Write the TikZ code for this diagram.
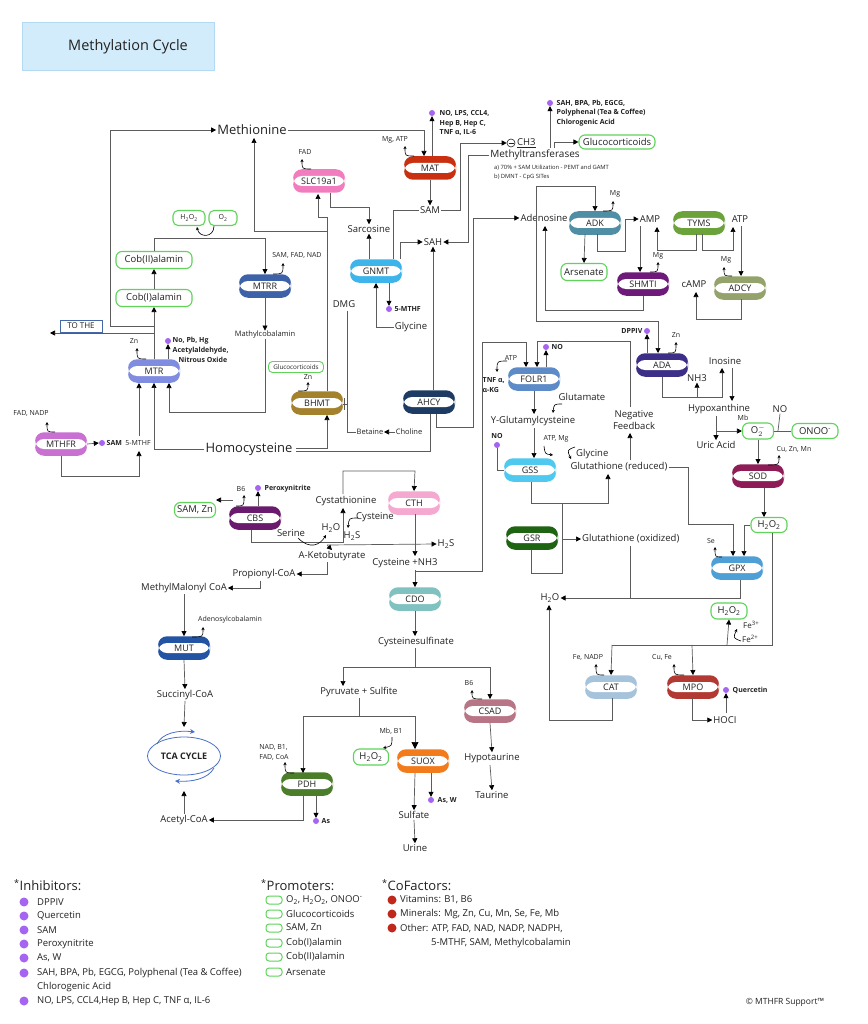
\documentclass[tikz,border=0pt]{standalone}
\usepackage{fontspec}
\setmainfont{Open Sans}
\usetikzlibrary{arrows.meta,shapes.geometric}
\definecolor{lc}{HTML}{5C5C5C}
\definecolor{pg}{HTML}{5FD35A}
\definecolor{inh}{HTML}{A565F0}
\definecolor{cofr}{HTML}{C0281C}
\definecolor{txt}{HTML}{222222}
\definecolor{matc}{HTML}{C8300F}
\definecolor{slcc}{HTML}{F27DBE}
\definecolor{gnmtc}{HTML}{3DB5EA}
\definecolor{mtrrc}{HTML}{3E62A8}
\definecolor{mtrc}{HTML}{7F8CE0}
\definecolor{mthfrc}{HTML}{C970D3}
\definecolor{bhmtc}{HTML}{A4812C}
\definecolor{ahcyc}{HTML}{1E3B63}
\definecolor{folrc}{HTML}{5D8BC8}
\definecolor{gssc}{HTML}{4FC9F0}
\definecolor{gsrc}{HTML}{1F6412}
\definecolor{cthc}{HTML}{F5A9D0}
\definecolor{cbsc}{HTML}{6B1B6D}
\definecolor{cdoc}{HTML}{80C2C0}
\definecolor{csadc}{HTML}{B87586}
\definecolor{suoxc}{HTML}{F27B1C}
\definecolor{pdhc}{HTML}{4C7D2A}
\definecolor{mutc}{HTML}{2254A3}
\definecolor{adkc}{HTML}{4F8EA5}
\definecolor{shmtc}{HTML}{6D1A7A}
\definecolor{tymsc}{HTML}{6BA23A}
\definecolor{adcyc}{HTML}{94A36B}
\definecolor{adac}{HTML}{3D2F88}
\definecolor{sodc}{HTML}{8E1D57}
\definecolor{gpxc}{HTML}{4E9FD6}
\definecolor{catc}{HTML}{A6C3DC}
\definecolor{mpoc}{HTML}{B23A33}
\definecolor{tcac}{HTML}{4A70C8}
\definecolor{tothe}{HTML}{4468A8}
\definecolor{titlef}{HTML}{D3ECFB}
\definecolor{titleb}{HTML}{B3DAF2}
\newcommand{\fbig}{\fontsize{13}{15}\selectfont}
\newcommand{\fmed}{\fontsize{9.5}{11}\selectfont}
\newcommand{\fsm}{\fontsize{7}{8}\selectfont}
\newcommand{\fsb}{\fontsize{7}{9.8}\selectfont\bfseries}
\newcommand{\fenz}{\fontsize{9}{10}\selectfont}
\newcommand{\fleg}{\fontsize{9.5}{11}\selectfont}
\newcommand{\flegt}{\fontsize{13}{15}\selectfont}
\begin{document}
\begin{tikzpicture}[x=1pt,y=-1pt,
  every node/.style={text=txt},
  t/.style={inner sep=1pt,font=\fmed},
  big/.style={inner sep=1pt,font=\fbig},
  sm/.style={inner sep=0.5pt,font=\fsm},
  sb/.style={inner sep=0.5pt,font=\fsb,align=left},
  enz/.style={rectangle,rounded corners=9pt,minimum width=52pt,minimum height=23.5pt,inner sep=0pt,fill=#1,font=\fenz,
    path picture={\fill[white] ([yshift=-5pt]path picture bounding box.west) rectangle ([yshift=5pt]path picture bounding box.east);}},
  prom/.style={draw=pg,line width=1.1pt,rounded corners=6pt,inner sep=1pt,fill=white,font=\fmed},
  dot/.style={circle,fill=inh,inner sep=0pt,minimum size=6pt},
  ar/.style={draw=lc,line width=0.7pt,-{Triangle[length=5pt,width=5pt,color=black]}},
  ln/.style={draw=lc,line width=0.7pt},
  cf/.style={draw=black,line width=0.6pt,-{Stealth[length=3.2pt,width=3.2pt]}},
  tcaar/.style={draw=tcac,line width=0.8pt,-{Stealth[length=5pt,width=5pt]}},
  ldot/.style={circle,inner sep=0pt,minimum size=9pt},
  lt/.style={anchor=west,inner sep=0pt,font=\fleg},
  lprom/.style={draw=pg,line width=1pt,rounded corners=3pt,minimum width=16pt,minimum height=8pt,inner sep=0pt}
]
\useasboundingbox (0,0) rectangle (867,1024);
\fill[white] (0,0) rectangle (867,1024);
% title
\fill[titlef,draw=titleb,line width=0.8pt] (22,22) rectangle (214,70);
\node[font=\fontsize{14.5}{16}\selectfont] (title) at (128,47) {Methylation Cycle};

% ---------- nodes: folate / methionine ----------
\node[big] (Met) at (252,130) {Methionine};
\node[big] (Homo) at (249,449) {Homocysteine};
\node[prom,minimum width=76pt,minimum height=17pt] (Cob2) at (154,260) {Cob(II)alamin};
\node[prom,minimum width=76pt,minimum height=17pt] (Cob1) at (154,298) {Cob(I)alamin};
\node[prom,minimum width=32pt,minimum height=15pt,font=\fsm,rounded corners=5pt] (H2Oa) at (189,218) {H\textsubscript{2}O\textsubscript{2}};
\node[prom,minimum width=28pt,minimum height=15pt,font=\fsm,rounded corners=5pt] (O2a) at (223,218) {O\textsubscript{2}};
\node[enz=mtrrc] (MTRR) at (265,286) {MTRR};
\node[sm] (mtrrcf) at (297,255) {SAM, FAD, NAD};
\node[sm,font=\fontsize{7.5}{8}\selectfont] (Mathyl) at (265,335) {Mathylcobalamin};
\node[draw=tothe,line width=0.8pt,minimum width=42pt,minimum height=12pt,inner sep=0pt,font=\fontsize{8}{9}\selectfont] (tothe) at (81,326) {TO THE};
\node[enz=mtrc] (MTR) at (154,371) {MTR};
\node[sm] (mtrzn) at (134,341) {Zn};
\node[dot] (mtrdot) at (168,341) {};
\node[sb,anchor=west] (mtri1) at (172,341) {No, Pb, Hg};
\node[sb,anchor=west] (mtri2) at (172,351) {Acetylaldehyde,};
\node[sb,anchor=west] (mtri3) at (178,360) {Nitrous Oxide};
\node[enz=mthfrc] (MTHFR) at (61,444) {MTHFR};
\node[sm] (mthfrcf) at (31,413) {FAD, NADP};
\node[dot] (samdot) at (102,443) {};
\node[anchor=west,inner sep=0.5pt,font=\fontsize{7}{8}\selectfont\bfseries] (samt) at (106,443) {SAM};
\node[sm] (mthf) at (138,443) {5-MTHF};

% ---------- SAM cycle ----------
\node[enz=matc] (MAT) at (430,168) {MAT};
\node[sm] (matcf) at (395,140) {Mg, ATP};
\node[dot] (matdot) at (432,113) {};
\node[sb,anchor=west] (mati) at (439,123) {NO, LPS, CCL4,\\Hep B, Hep C,\\TNF α, IL-6};
\node[t] (SAM) at (430,210) {SAM};
\node[enz=slcc] (SLC) at (319,181) {SLC19a1};
\node[sm] (slccf) at (305,152) {FAD};
\node[t] (Sarc) at (369,229) {Sarcosine};
\node[enz=gnmtc] (GNMT) at (376,271) {GNMT};
\node[dot] (gdot) at (389,309) {};
\node[anchor=west,inner sep=0.5pt,font=\fontsize{7}{8}\selectfont\bfseries] (gmthf) at (394,309) {5-MTHF};
\node[t] (Gly) at (411,327) {Glycine};
\node[t] (SAH) at (433,242) {SAH};
\node[circle,draw=txt,line width=0.6pt,minimum size=8pt,inner sep=0pt] (minus) at (511,143) {};
\draw[txt,line width=0.7pt] ([xshift=-2.5pt]minus.center) -- ([xshift=2.5pt]minus.center);
\node[t,anchor=west] (CH3) at (516,143) {\underline{CH3}};
\node[t,font=\fontsize{10}{12}\selectfont] (MTase) at (535,155) {Methyltransferases};
\node[anchor=west,inner sep=0pt,font=\fontsize{5.8}{6.5}\selectfont] (notea) at (494,168) {a) 70\% + SAM Utilization - PEMT and GAMT};
\node[anchor=west,inner sep=0pt,font=\fontsize{5.8}{6.5}\selectfont] (noteb) at (494,177) {b) DMNT - CpG SITes};
\node[dot] (mtdot) at (550,103) {};
\node[sb,anchor=west] (mti) at (556,113) {SAH, BPA, Pb, EGCG,\\Polyphenal (Tea \& Coffee)\\Chlorogenic Acid};
\node[prom,minimum width=76pt,minimum height=14pt] (Gluco) at (617,142) {Glucocorticoids};

% ---------- adenosine ----------
\node[t] (Ado) at (544,218) {Adenosine};
\node[enz=adkc] (ADK) at (595,223) {ADK};
\node[sm] (adkmg) at (615,194) {Mg};
\node[t] (AMP) at (650,219) {AMP};
\node[enz=tymsc] (TYMS) at (699,223) {TYMS};
\node[t] (ATP) at (740,219) {ATP};
\node[prom,minimum width=46pt,minimum height=17pt] (Ars) at (584,272) {Arsenate};
\node[enz=shmtc] (SHMT) at (643,284) {SHMTI};
\node[sm] (shmg) at (658,256) {Mg};
\node[enz=adcyc] (ADCY) at (740,288) {ADCY};
\node[sm] (adcymg) at (726,260) {Mg};
\node[t] (cAMP) at (694,284) {cAMP};

% ---------- ADA / purines ----------
\node[dot] (adadot) at (647,331) {};
\node[sb,anchor=east] (dppiv) at (643,331) {DPPIV};
\node[enz=adac] (ADA) at (662,365) {ADA};
\node[sm] (adazn) at (676,335) {Zn};
\node[t] (Ino) at (725,361) {Inosine};
\node[t] (NH3) at (697,378) {NH3};
\node[t] (Hypo) at (719,409) {Hypoxanthine};
\node[sm] (mb) at (743,418) {Mb};
\node[t] (Uric) at (716,445) {Uric Acid};
\node[prom,minimum width=31pt,minimum height=16pt] (O2m) at (758,431) {O$^{-}_{2}$};
\node[t] (NO) at (780,409) {NO};
\node[prom,minimum width=46pt,minimum height=15pt] (ONOO) at (815,431) {ONOO\textsuperscript{-}};
\node[enz=sodc] (SOD) at (758,476) {SOD};
\node[sm] (sodcf) at (794,449) {Cu, Zn, Mn};
\node[prom,minimum width=36pt,minimum height=15pt] (H2Ob) at (769,525) {H\textsubscript{2}O\textsubscript{2}};
\node[enz=gpxc] (GPX) at (737,568) {GPX};
\node[sm] (gpxse) at (711,541) {Se};
\node[t] (H2O) at (550,598) {H\textsubscript{2}O};
\node[prom,minimum width=36pt,minimum height=16pt] (H2Oc) at (729,611) {H\textsubscript{2}O\textsubscript{2}};
\node[anchor=west,inner sep=0pt,font=\fontsize{8}{9}\selectfont] (fe3) at (743,625) {Fe\textsuperscript{3+}};
\node[anchor=west,inner sep=0pt,font=\fontsize{8}{9}\selectfont] (fe2) at (742,639) {Fe\textsuperscript{2+}};
\node[enz=catc] (CAT) at (611,687) {CAT};
\node[sm] (catcf) at (588,657) {Fe, NADP};
\node[enz=mpoc] (MPO) at (693,687) {MPO};
\node[sm] (mpocf) at (662,657) {Cu, Fe};
\node[t] (HOCI) at (725,720) {HOCI};
\node[dot] (qdot) at (726,690) {};
\node[sb,anchor=west] (quer) at (732,690) {Quercetin};

% ---------- glutathione ----------
\node[enz=folrc] (FOLR) at (534,379) {FOLR1};
\node[dot] (fdot) at (546,347) {};
\node[sb,anchor=west] (fno) at (551,347) {NO};
\node[sm] (fatp) at (511,358) {ATP};
\node[sb,anchor=west] (tnf) at (482,385) {TNF α,\\α-KG};
\node[t] (Glutam) at (582,397) {Glutamate};
\node[t] (YGlu) at (533,421) {Y-Glutamylcysteine};
\node[sb] (gno) at (497,436) {NO};
\node[dot] (gsdot) at (497,445) {};
\node[sm] (atpmg) at (556,439) {ATP, Mg};
\node[t,anchor=west] (Glyc2) at (575,454) {Glycine};
\node[t] (GRed) at (619,467) {Glutathione (reduced)};
\node[enz=gssc] (GSS) at (530,470) {GSS};
\node[enz=gsrc] (GSR) at (532,538) {GSR};
\node[t,anchor=west] (GOx) at (581,539) {Glutathione (oxidized)};
\node[t,align=center,font=\fontsize{9.5}{12.5}\selectfont] (NegFb) at (634,420) {Negative\\Feedback};

% ---------- transsulfuration ----------
\node[enz=cthc] (CTH) at (414,503) {CTH};
\node[t] (Cysta) at (346,501) {Cystathionine};
\node[t] (Cyst) at (375,517) {Cysteine};
\node[t] (H2Od) at (331,528) {H\textsubscript{2}O};
\node[t] (H2Sa) at (352,536) {H\textsubscript{2}S};
\node[t] (H2Sb) at (446,544) {H\textsubscript{2}S};
\node[t] (Ser) at (291,533) {Serine};
\node[enz=cbsc] (CBS) at (255,518) {CBS};
\node[sm] (cbsb6) at (241,489) {B6};
\node[dot] (cbsdot) at (258,488) {};
\node[sb,anchor=west] (perox) at (264,489) {Peroxynitrite};
\node[prom,minimum width=41pt,minimum height=15pt] (SAMZn) at (195,510) {SAM, Zn};
\node[t] (AKeto) at (332,556) {A-Ketobutyrate};
\node[t] (CysNH3) at (405,563) {Cysteine +NH3};
\node[t] (Prop) at (264,574) {Propionyl-CoA};
\node[t] (MMCoA) at (184,588) {MethylMalonyl CoA};
\node[sm] (adocbl) at (230,620) {Adenosylcobalamin};
\node[enz=mutc] (MUT) at (184,648) {MUT};
\node[t] (SucCoA) at (185,695) {Succinyl-CoA};
\node[ellipse,draw=tcac,line width=0.8pt,minimum width=73pt,minimum height=38pt,inner sep=0pt,font=\fontsize{9}{10}\selectfont\bfseries] (TCA) at (184,756) {TCA CYCLE};
\node[t] (AcCoA) at (184,820) {Acetyl-CoA};
\node[enz=cdoc] (CDO) at (415,599) {CDO};
\node[t] (CysSulf) at (416,642) {Cysteinesulfinate};
\node[t] (PyrSulf) at (359,692) {Pyruvate + Sulfite};
\node[enz=csadc] (CSAD) at (490,711) {CSAD};
\node[sm] (csadb6) at (469,683) {B6};
\node[t] (Hypot) at (492,758) {Hypotaurine};
\node[t] (Taur) at (492,795) {Taurine};
\node[sm,align=left,font=\fontsize{7}{10}\selectfont] (pdhcf) at (274,752) {NAD, B1,\\FAD, CoA};
\node[enz=pdhc] (PDH) at (307,784) {PDH};
\node[dot] (asdot) at (316,821) {};
\node[sb,anchor=west] (ast) at (321,821) {As};
\node[sm] (mbb1) at (391,731) {Mb, B1};
\node[prom,minimum width=35pt,minimum height=16pt] (H2Oe) at (371,757) {H\textsubscript{2}O\textsubscript{2}};
\node[enz=suoxc] (SUOX) at (423,761) {SUOX};
\node[dot] (awdot) at (431,800) {};
\node[sb,anchor=west] (awt) at (437,800) {As, W};
\node[t] (Sulf) at (414,815) {Sulfate};
\node[t] (Urine) at (415,848) {Urine};

% ---------- BHMT area ----------
\node[enz=bhmtc] (BHMT) at (317,403) {BHMT};
\node[prom,minimum width=55pt,minimum height=11pt,font=\fontsize{6.3}{7}\selectfont,line width=0.9pt,rounded corners=4pt,inner sep=1pt] (Gluco2) at (296,367) {Glucocorticoids};
\node[sm] (bhmtzn) at (308,377) {Zn};
\node[t] (DMG) at (344,304) {DMG};
\node[enz=ahcyc] (AHCY) at (429,402) {AHCY};
\node[sm,font=\fontsize{7.5}{8}\selectfont] (Bet) at (370,432) {Betaine};
\node[sm,font=\fontsize{7.5}{8}\selectfont] (Chol) at (409,432) {Choline};

% ================= connectors =================
% left
\draw[ar] (MTR.north) -- (Cob1.south);
\draw[ar] (154,326) -| (110,130) -- (Met.west);
\draw[ar] (154,333) -- (50,333);
\draw[ar] (Cob1.north) -- (Cob2.south);
\draw[ar] (Cob2.north) |- (265,238) -- (MTRR.north);
\draw[cf] (214,226) .. controls (214,238) and (199,238) .. (197,227);
\draw[cf] (273,274) .. controls (283,274) .. (283,263);
\draw[ar] (MTRR.south) -- (Mathyl.north);
\draw[ar] (Mathyl.south) |- (169,412) -- (169,383);
\draw[ar] (Homo.west) -| (MTR.south);
\draw[ar] (MTHFR.south) |- (139,476) -- (139,451);
\draw[ar] (139,436) -- (139,383);
\draw[ar] (MTHFR.east) -- (samdot.west);
\draw[cf] (55,432) .. controls (47,432) .. (47,422);
\draw[cf] (146,359) .. controls (137,359) .. (137,348);
\draw[ar] (168,359) -- (mtrdot.south);
% SAM cycle
\draw[ar] (Met.east) -| (424,156);
\draw[ar] (432,156) -- (matdot.south);
\draw[cf] (414,156) .. controls (405,156) .. (405,146);
\draw[ar] (MAT.south) -- (SAM.north);
\draw[ar] (SAM.east) -| (460,143) -- (minus.west);
\draw[ln] (SAM.west) -| (393,259);
\draw[ar] (400,259) |- (SAH.west);
\draw[ar] (369,259) -- (Sarc.south);
\draw[ar] (330,193) |- (369,207) -- (Sarc.north);
\draw[cf] (311,169) .. controls (302,169) .. (302,159);
\draw[ar] (389,283) -- (gdot.north);
\draw[ar] (Gly.west) -| (376,283);
\draw[ar] (MTase.west) -| (468,242) -- (SAH.east);
\draw[ar] (550,148) -- (mtdot.south);
\draw[ar] (554,148) |- (Gluco.west);
\draw[ar] (433,390) -- (SAH.south);
\draw[ar] (436,414) |- (473,427) |- (Ado.west);
% adenosine
\draw[ar] (536,186) -| (ADK.north);
\draw[ar] (536,186) |- (658,321) -- (658,353);
\draw[ar] (SHMT.south) |- (545,310) -- (545,226);
\draw[ar] (585,234) -- (Ars.north);
\draw[ar] (597,234) |- (625,251) |- (AMP.west);
\draw[cf] (603,211) .. controls (613,211) .. (613,201);
\draw[ar] (640,226) -- (640,272);
\draw[cf] (650,272) .. controls (658,272) .. (658,262);
\draw[ar] (696,234) |- (657,250) -- (657,227);
\draw[ar] (702,234) |- (733,250) -- (733,227);
\draw[ar] (741,226) -- (741,276);
\draw[cf] (732,276) .. controls (724,276) .. (724,267);
\draw[ar] (741,299) |- (696,319) -- (696,292);
% ADA
\draw[ar] (647,353) -- (adadot.south);
\draw[cf] (668,353) .. controls (676,353) .. (676,342);
\draw[ar] (662,377) |- (722,397) -- (722,368);
\draw[ar] (697,397) -- (NH3.south);
\draw[ar] (732,368) -- (732,401);
\draw[ar] (716,416) -- (Uric.north);
\draw[ar] (716,431) -- (O2m.west);
\draw[ln] (NO.south) -- (778,431);
\draw[ln] (O2m.east) -- (ONOO.west);
\draw[ar] (O2m.south) -- (SOD.north);
\draw[cf] (768,465) .. controls (779,465) .. (779,455);
\draw[ar] (764,488) -- (764,517);
\draw[ar] (H2Ob.west) -| (744,556);
\draw[ar] (GRed.east) -| (688,524) -| (733,556);
\draw[cf] (722,557) .. controls (715,557) .. (715,547);
\draw[ar] (740,580) |- (H2O.east);
\draw[ln] (630,546) -- (630,598);
\draw[ln] (772,533) |- (612,645);
\draw[ar] (612,645) -- (CAT.north);
\draw[ar] (692,645) -- (MPO.north);
\draw[ar] (727,645) -- (H2Oc.south);
\draw[cf] (741,641) .. controls (733,638) .. (737,629);
\draw[cf] (604,675) .. controls (596,675) .. (596,664);
\draw[cf] (684,675) .. controls (674,675) .. (674,664);
\draw[ar] (692,698) |- (HOCI.west);
\draw[ar] (726,713) -- (qdot.south);
\draw[ar] (612,698) |- (549,720) -- (549,605);
% glutathione
\draw[ar] (415,571) -| (482,342) -| (526,367);
\draw[ar] (630,460) -- (630,433);
\draw[ar] (630,407) |- (537,341) -- (537,367);
\draw[ar] (546,367) -- (fdot.south);
\draw[cf] (507,361) .. controls (497,361) .. (497,372);
\draw[ar] (FOLR.south) -- (534,414);
\draw[cf] (562,404) .. controls (554,404) .. (553,413);
\draw[ar] (534,428) -- (534,458);
\draw[ln] (gsdot.south) |- (GSS.west);
\draw[cf] (544,446) .. controls (545,454) .. (553,455);
\draw[cf] (575,447) .. controls (567,450) .. (571,459);
\draw[ar] (531,482) |- (608,503) -- (608,474);
\draw[ln] (562,503) |- (531,573) -- (531,550);
\draw[ar] (562,539) -- (GOx.west);
% transsulfuration
\draw[ar] (251,530) |- (343,542) -- (343,508);
\draw[ar] (343,494) |- (415,471) -- (CTH.north);
\draw[ar] (233,500) -- (216,500);
\draw[cf] (236,506) .. controls (244,506) .. (244,495);
\draw[ar] (258,506) -- (cbsdot.south);
\draw[cf] (298,538) .. controls (310,550) and (320,545) .. (326,535);
\draw[cf] (358,518) .. controls (349,518) .. (348,528);
\draw[ar] (327,545) -- (H2Sb.west);
\draw[ar] (327,545) -- (AKeto.north);
\draw[ar] (327,562) |- (Prop.east);
\draw[ar] (415,514) -- (415,556);
\draw[ar] (415,570) -- (CDO.north);
\draw[ar] (CDO.south) -- (415,636);
\draw[ln] (415,648) -- (415,667);
\draw[ar] (415,667) -| (343,686);
\draw[ar] (415,667) -| (CSAD.north);
\draw[cf] (482,699) .. controls (472,699) .. (472,690);
\draw[ar] (CSAD.south) -- (Hypot.north);
\draw[ar] (490,765) -- (Taur.north);
\draw[ln] (359,698) -- (359,716);
\draw[ar] (359,716) -| (303,773);
\draw[draw=lc,line width=0.7pt,-{Triangle[length=7pt,width=7pt,color=black]}] (359,716) -| (415,749);
\draw[cf] (294,773) .. controls (285,773) .. (285,762);
\draw[ar] (303,796) |- (AcCoA.east);
\draw[ar] (316,796) -- (asdot.north);
\draw[cf] (392,737) .. controls (392,746) .. (383,748);
\draw[ar] (415,773) -- (Sulf.north);
\draw[ar] (431,773) -- (awdot.north);
\draw[ar] (Sulf.south) -- (Urine.north);
\draw[ar] (260,581) |- (MMCoA.east);
\draw[ar] (MMCoA.south) -- (MUT.north);
\draw[cf] (192,637) .. controls (203,637) .. (203,627);
\draw[ar] (MUT.south) -- (SucCoA.north);
\draw[ar] (SucCoA.south) -- (184,727);
\draw[ar] (AcCoA.north) -- (184,791);
\draw[tcaar] (157,744) .. controls (162,733) and (178,730) .. (195,732);
\draw[tcaar] (214,768) .. controls (208,779) and (192,782) .. (175,781);
% BHMT
\draw[ar] (327,391) |- (318,217) -- (318,194);
\draw[ar] (327,231) -| (254,138);
\draw[ar] (296,448) -| (327,415);
\draw[ln] (430,414) |- (296,451);
\draw[cf] (298,391) .. controls (308,391) .. (308,382);
\draw[ln] (343,404) -- (348,404);
\draw[ln] (344,398) -- (344,410);
\draw[ln] (347,311) |- (Bet.west);
\draw[ar] (Chol.west) -- (Bet.east);

% ================= legend =================
\node[anchor=west,inner sep=0pt,font=\flegt] (inhT) at (14,885) {\textsuperscript{*}Inhibitors:};
\node[ldot,fill=inh] (ld1) at (24,902) {}; \node[lt] (lt1) at (37,902) {DPPIV};
\node[ldot,fill=inh] (ld2) at (24,916) {}; \node[lt] (lt2) at (37,916) {Quercetin};
\node[ldot,fill=inh] (ld3) at (24,930) {}; \node[lt] (lt3) at (37,930) {SAM};
\node[ldot,fill=inh] (ld4) at (24,944) {}; \node[lt] (lt4) at (37,944) {Peroxynitrite};
\node[ldot,fill=inh] (ld5) at (24,958) {}; \node[lt] (lt5) at (37,958) {As, W};
\node[ldot,fill=inh] (ld6) at (24,973) {}; \node[lt] (lt6) at (37,973) {SAH, BPA, Pb, EGCG, Polyphenal (Tea \& Coffee)};
\node[lt] (lt7) at (37,987) {Chlorogenic Acid};
\node[ldot,fill=inh] (ld8) at (24,1001) {}; \node[lt] (lt8) at (37,1001) {NO, LPS, CCL4,Hep B, Hep C, TNF α, IL-6};

\node[anchor=west,inner sep=0pt,font=\flegt] (promT) at (261,885) {\textsuperscript{*}Promoters:};
\node[lprom] (lp1) at (274,900) {}; \node[lt] (lq1) at (286,900) {O\textsubscript{2}, H\textsubscript{2}O\textsubscript{2}, ONOO\textsuperscript{-}};
\node[lprom] (lp2) at (274,914) {}; \node[lt] (lq2) at (286,914) {Glucocorticoids};
\node[lprom] (lp3) at (274,928) {}; \node[lt] (lq3) at (286,928) {SAM, Zn};
\node[lprom] (lp4) at (274,943) {}; \node[lt] (lq4) at (286,943) {Cob(I)alamin};
\node[lprom] (lp5) at (274,957) {}; \node[lt] (lq5) at (286,957) {Cob(II)alamin};
\node[lprom] (lp6) at (274,972) {}; \node[lt] (lq6) at (286,972) {Arsenate};

\node[anchor=west,inner sep=0pt,font=\flegt] (cofT) at (382,885) {\textsuperscript{*}CoFactors:};
\node[ldot,fill=cofr] (lc1) at (392,900) {}; \node[lt] (lr1) at (400,900) {Vitamins: B1, B6};
\node[ldot,fill=cofr] (lc2) at (392,914) {}; \node[lt] (lr2) at (400,914) {Minerals: Mg, Zn, Cu, Mn, Se, Fe, Mb};
\node[ldot,fill=cofr] (lc3) at (392,928) {}; \node[lt] (lr3) at (400,928) {Other: ATP, FAD, NAD, NADP, NADPH,};
\node[lt] (lr4) at (431,943) {5-MTHF, SAM, Methylcobalamin};

\node[font=\fontsize{8.5}{10}\selectfont] (copy) at (785,1002) {© MTHFR Support™};
\end{tikzpicture}
\end{document}
